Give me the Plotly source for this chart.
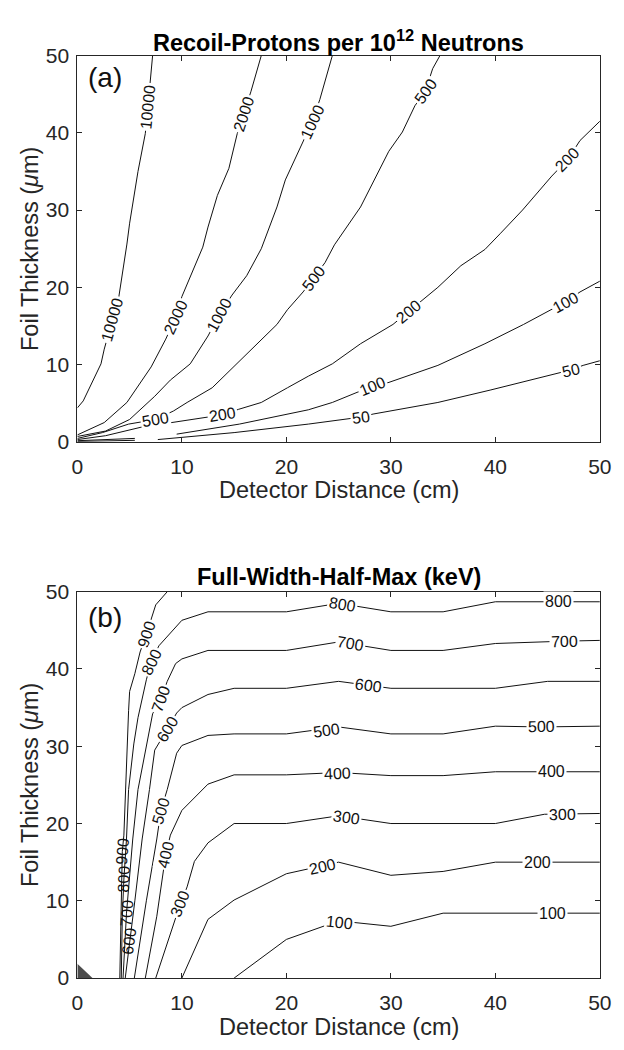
import math
import plotly.graph_objects as go

FIG_W, FIG_H = 624, 1050
FONT = "Liberation Sans, Arial, Helvetica, sans-serif"
INK = "#262626"

tick_vals = [0, 10, 20, 30, 40, 50]

# ---------------- Panel (a): Recoil-Protons per 10^12 Neutrons ----------------
a_10000_x = [0, 0.56, 2.26, 2.57, 3.35, 3.97, 4.74, 5.0, 5.8, 6.5, 6.75, 6.97, 7.2]
a_10000_y = [4.4, 5.3, 10.1, 12.0, 15.8, 18.8, 25.6, 28.3, 35.0, 39.9, 43.4, 46.8, 50]
a_10000_lx = [3.35, 6.75]
a_10000_ly = [15.8, 43.4]

a_2000_x = [0, 2.57, 4.74, 7.06, 8.46, 9.4, 10.0, 12.0, 12.5, 13.4, 14.5, 15.3, 15.9, 16.6, 17.6]
a_2000_y = [0.9, 2.5, 5.1, 9.7, 13.3, 16.1, 18.8, 25.2, 27.8, 31.9, 35.4, 39.9, 42.4, 45.3, 50]
a_2000_lx = [9.4, 15.9]
a_2000_ly = [16.1, 42.4]

a_1000_x = [0, 2.7, 5.0, 7.4, 8.9, 10.8, 12.5, 13.6, 14.8, 16.2, 17.6, 19.1, 19.9, 21.3, 22.5, 23.2, 24.4]
a_1000_y = [0.7, 1.4, 2.9, 5.9, 8.0, 10.1, 13.7, 16.5, 19.0, 21.5, 25.0, 30.4, 33.9, 38.0, 41.5, 44.3, 50]
a_1000_lx = [13.6, 22.5]
a_1000_ly = [16.5, 41.5]

a_500_x = [0, 2.4, 4.9, 7.5, 9.2, 10.5, 12.9, 15.1, 17.6, 19.1, 20.1, 21.6, 22.6, 23.7, 24.6, 25.8, 27.1,
           29.8, 31.1, 32.3, 33.3, 34.0, 34.7]
a_500_y = [0.45, 1.2, 2.3, 2.9, 4.0, 5.1, 7.0, 9.9, 13.1, 15.2, 17.1, 19.4, 21.2, 23.2, 25.5, 27.8, 30.4,
           37.6, 40.1, 43.5, 45.4, 48.3, 50]
a_500_lx = [7.5, 22.6, 33.3]
a_500_ly = [2.9, 21.2, 45.4]

a_200_x = [0, 2.7, 6.1, 9.0, 11.5, 13.9, 15.4, 17.6, 20.1, 22.1, 24.4, 27.1, 30.2, 31.7, 33.6, 34.5,
           36.7, 39.0, 40.5, 42.6, 45.4, 46.9, 48.1, 50]
a_200_y = [0.3, 0.8, 1.9, 2.5, 3.0, 3.5, 4.2, 5.1, 7.0, 8.5, 10.1, 12.7, 15.2, 16.9, 19.0, 20.0,
           22.8, 24.9, 27.0, 30.0, 34.4, 36.5, 39.0, 41.5]
a_200_lx = [13.9, 31.7, 46.9]
a_200_ly = [3.5, 16.9, 36.5]

a_100_x = [0, 5.5, None, 9.5, 15.5, 22.1, 24.4, 28.2, 29.6, 34.5, 39.0, 42.7, 45.2, 46.7, 48.1, 50]
a_100_y = [0.15, 0.45, None, 1.0, 2.3, 4.15, 5.1, 7.2, 7.6, 9.9, 12.7, 15.2, 17.0, 18.1, 19.4, 20.8]
a_100_lx = [28.2, 46.7]
a_100_ly = [7.2, 18.1]

a_50_x = [0, 5.5, None, 7.7, 15.0, 22.1, 27.1, 28.3, 34.5, 39.5, 45.6, 47.2, 48.4, 50]
a_50_y = [0.05, 0.2, None, 0.3, 1.2, 2.3, 3.2, 3.6, 5.1, 6.7, 8.8, 9.3, 9.9, 10.5]
a_50_lx = [27.1, 47.2]
a_50_ly = [3.2, 9.3]

# ---------------- Panel (b): Full-Width-Half-Max (keV) ----------------
b_900_x = [8.6, 7.5, 6.6, 6.0, 5.5, 5.0, 4.9, 4.6, 4.45, 4.3, 4.2, 4.06]
b_900_y = [50, 48.3, 44.5, 42.2, 39.4, 37.1, 34.6, 25.1, 18.5, 16.4, 10, 0]
b_900_lx = [6.6]
b_900_ly = [44.5]

b_800_x = [50, 46.0, 40, 35, 30, 25, 20, 12.5, 10.0, 7.8, 7.06, 6.6, 5.8, 5.4, 4.9, 4.7, 4.45, 4.3, 4.2]
b_800_y = [48.7, 48.7, 48.7, 47.4, 47.4, 48.5, 47.4, 47.4, 46.3, 43.0, 40.9, 38.6, 33.7, 30.3, 24.4, 18, 12.8, 8, 0]
b_800_lx = [46.0, 25.4, 7.06]
b_800_ly = [48.7, 48.4, 40.9]

b_700_x = [50, 46.6, 40, 35, 30, 25, 20, 12.5, 10.0, 9.4, 8.6, 8.0, 7.2, 6.75, 5.8, 5.3, 4.9, 4.7, 4.37]
b_700_y = [43.7, 43.6, 43.3, 42.4, 42.4, 43.5, 42.4, 42.4, 41.3, 40.7, 38.4, 36.2, 34.2, 31.2, 24.4, 18, 12, 8.4, 0]
b_700_lx = [46.6, 26.1, 8.0]
b_700_ly = [43.6, 43.3, 36.2]

b_600_x = [50, 45, 40, 35, 30, 25, 20, 15, 12.5, 10.0, 9.5, 8.6, 7.7, 7.4, 6.9, 6.2, 5.5, 5.0, 4.58]
b_600_y = [38.4, 38.4, 37.5, 37.5, 37.5, 38.4, 37.5, 37.5, 36.7, 35.0, 34.3, 32.2, 30.3, 29.5, 24.4, 18, 10, 4.8, 0]
b_600_lx = [27.9, 8.6]
b_600_ly = [37.9, 32.2]

b_500_x = [50, 44.4, 40, 35, 30, 25, 20, 15, 12.5, 10.0, 9.5, 8.6, 8.0, 7.6, 6.6, 5.45]
b_500_y = [32.6, 32.5, 32.6, 31.6, 31.6, 32.5, 31.6, 31.6, 31.4, 30.1, 29.1, 24.4, 21.7, 18, 10, 0]
b_500_lx = [44.4, 23.8, 8.0]
b_500_ly = [32.5, 32.1, 21.7]

b_400_x = [50, 45.4, 40, 35, 30, 25, 20, 15, 12.5, 10.0, 8.9, 8.46, 7.6, 6.5]
b_400_y = [26.7, 26.7, 26.7, 26.2, 26.2, 26.6, 26.3, 26.3, 25.1, 21.7, 18.5, 16.0, 8, 0]
b_400_lx = [45.4, 24.9, 8.46]
b_400_ly = [26.7, 26.5, 16.0]

b_300_x = [50, 46.4, 44.7, 40, 30, 25, 20, 15, 12.5, 11.2, 10.5, 9.85, 7.5]
b_300_y = [21.3, 21.2, 21.2, 20.0, 20.0, 21.0, 20.0, 20.0, 17.5, 15.1, 11.8, 9.6, 0]
b_300_lx = [46.4, 25.8, 9.85]
b_300_ly = [21.2, 20.8, 9.6]

b_200_x = [50, 44.0, 40, 35, 30, 25, 20, 15, 12.5, 10.0]
b_200_y = [15.0, 15.0, 15.0, 13.8, 13.3, 15.0, 13.5, 10.1, 7.6, 0]
b_200_lx = [44.0, 23.5]
b_200_ly = [15.0, 14.4]

b_100_x = [50, 45.5, 35, 30, 25, 20, 15]
b_100_y = [8.4, 8.4, 8.4, 6.7, 7.4, 5.0, 0]
b_100_lx = [45.5, 25.1]
b_100_ly = [8.4, 7.2]

# labels stacked on the crowded lines near the left edge of panel (b)
b_stack_levels = [900, 800, 700, 600]
b_stack_lx = [4.3, 4.4, 4.7, 5.0]
b_stack_ly = [16.4, 12.8, 8.4, 4.8]

# dense cluster of contours at the origin of panel (b)
b_origin_x = [0, 1.45, 0, 0]
b_origin_y = [0, 0, 1.85, 0]

panel_a = [
    (10000, a_10000_x, a_10000_y, a_10000_lx, a_10000_ly),
    (2000, a_2000_x, a_2000_y, a_2000_lx, a_2000_ly),
    (1000, a_1000_x, a_1000_y, a_1000_lx, a_1000_ly),
    (500, a_500_x, a_500_y, a_500_lx, a_500_ly),
    (200, a_200_x, a_200_y, a_200_lx, a_200_ly),
    (100, a_100_x, a_100_y, a_100_lx, a_100_ly),
    (50, a_50_x, a_50_y, a_50_lx, a_50_ly),
]
panel_b = [
    (900, b_900_x, b_900_y, b_900_lx, b_900_ly),
    (800, b_800_x, b_800_y, b_800_lx, b_800_ly),
    (700, b_700_x, b_700_y, b_700_lx, b_700_ly),
    (600, b_600_x, b_600_y, b_600_lx, b_600_ly),
    (500, b_500_x, b_500_y, b_500_lx, b_500_ly),
    (400, b_400_x, b_400_y, b_400_lx, b_400_ly),
    (300, b_300_x, b_300_y, b_300_lx, b_300_ly),
    (200, b_200_x, b_200_y, b_200_lx, b_200_ly),
    (100, b_100_x, b_100_y, b_100_lx, b_100_ly),
]

# ---------------- layout geometry ----------------
X_DOM = [73.5 / FIG_W, 611.5 / FIG_W]
A_YDOM = [(FIG_H - 439.5) / FIG_H, (FIG_H - 44.5) / FIG_H]
B_YDOM = [(FIG_H - 987.7) / FIG_H, (FIG_H - 592.7) / FIG_H]
XR = [0, 50]
YR = [0, 50]
SX = (X_DOM[1] - X_DOM[0]) * FIG_W / (XR[1] - XR[0])
SY_A = (A_YDOM[1] - A_YDOM[0]) * FIG_H / (YR[1] - YR[0])
SY_B = (B_YDOM[1] - B_YDOM[0]) * FIG_H / (YR[1] - YR[0])


def label_angle(xs, ys, lx, ly, sx, sy):
    best = None
    for i in range(len(xs) - 1):
        x0, y0, x1, y1 = xs[i], ys[i], xs[i + 1], ys[i + 1]
        if None in (x0, y0, x1, y1):
            continue
        ax, ay, bx, by = x0 * sx, y0 * sy, x1 * sx, y1 * sy
        px, py = lx * sx, ly * sy
        dx, dy = bx - ax, by - ay
        L2 = dx * dx + dy * dy
        t = 0.0 if L2 == 0 else max(0.0, min(1.0, ((px - ax) * dx + (py - ay) * dy) / L2))
        d = math.hypot(ax + t * dx - px, ay + t * dy - py)
        if best is None or d < best[0]:
            best = (d, dx, dy)
    _, dx, dy = best
    if dx < 0 or (dx == 0 and dy < 0):
        dx, dy = -dx, -dy
    return -math.degrees(math.atan2(dy, dx))


fig = go.Figure()
annotations = []
LINE = dict(color="#111111", width=1)
LABEL_FONT = dict(family=FONT, size=16, color="#111111")


def add_panel(panel, xa, ya, sy):
    for level, xs, ys, lxs, lys in panel:
        fig.add_trace(go.Scatter(x=xs, y=ys, mode="lines", line=LINE, connectgaps=False,
                                 hoverinfo="skip", showlegend=False, xaxis=xa, yaxis=ya))
        for lx, ly in zip(lxs, lys):
            ang = label_angle(xs, ys, lx, ly, SX, sy)
            annotations.append(dict(x=lx, y=ly, xref=xa, yref=ya, text=str(level), showarrow=False,
                                    textangle=ang, font=LABEL_FONT, bgcolor="white", borderpad=1,
                                    xanchor="center", yanchor="middle"))


add_panel(panel_a, "x", "y", SY_A)
fig.add_trace(go.Scatter(x=b_origin_x, y=b_origin_y, mode="lines", fill="toself", fillcolor="#4d4d4d",
                         line=dict(width=0, color="#4d4d4d"), hoverinfo="skip", showlegend=False,
                         xaxis="x2", yaxis="y2"))
add_panel(panel_b, "x2", "y2", SY_B)

# stacked labels (no gap, they sit over the crowded lines)
level_lines = {lv: (xs, ys) for lv, xs, ys, _, _ in panel_b}
for lv, lx, ly in zip(b_stack_levels, b_stack_lx, b_stack_ly):
    xs, ys = level_lines[lv]
    ang = label_angle(xs, ys, lx, ly, SX, SY_B)
    annotations.append(dict(x=lx, y=ly, xref="x2", yref="y2", text=str(lv), showarrow=False,
                            textangle=ang, font=LABEL_FONT, xanchor="center", yanchor="middle"))

# panel letters
annotations.append(dict(x=0.8, y=47.2, xref="x", yref="y", text="(a)", showarrow=False,
                        xanchor="left", yanchor="middle", font=dict(family=FONT, size=28, color="#111111")))
annotations.append(dict(x=0.8, y=46.7, xref="x2", yref="y2", text="(b)", showarrow=False,
                        xanchor="left", yanchor="middle", font=dict(family=FONT, size=28, color="#111111")))

xc = (X_DOM[0] + X_DOM[1]) / 2
TITLE_FONT = dict(family=FONT, size=23.5, color="#000000")
AXT_FONT = dict(family=FONT, size=23.5, color=INK)


def py(p):
    return (FIG_H - p) / FIG_H


annotations += [
    dict(x=xc, y=py(30), xref="paper", yref="paper", showarrow=False, xanchor="center", yanchor="middle",
         text="<b>Recoil-Protons per 10<sup>12</sup> Neutrons</b>", font=TITLE_FONT),
    dict(x=xc, y=py(577.5), xref="paper", yref="paper", showarrow=False, xanchor="center", yanchor="middle",
         text="<b>Full-Width-Half-Max (keV)</b>", font=TITLE_FONT),
    dict(x=xc, y=py(488.5), xref="paper", yref="paper", showarrow=False, xanchor="center", yanchor="middle",
         text="Detector Distance (cm)", font=AXT_FONT),
    dict(x=xc, y=py(1037.5), xref="paper", yref="paper", showarrow=False, xanchor="center", yanchor="middle",
         text="Detector Distance (cm)", font=AXT_FONT),
    dict(x=24 / FIG_W, y=py(242), xref="paper", yref="paper", showarrow=False, xanchor="center",
         yanchor="middle", textangle=-90, text="Foil Thickness (<i>μ</i>m)", font=AXT_FONT),
    dict(x=24 / FIG_W, y=py(790), xref="paper", yref="paper", showarrow=False, xanchor="center",
         yanchor="middle", textangle=-90, text="Foil Thickness (<i>μ</i>m)", font=AXT_FONT),
]

axis_common = dict(range=XR, tickvals=tick_vals, ticks="inside", ticklen=5, tickwidth=1, tickcolor=INK,
                   showline=True, linecolor=INK, linewidth=1, mirror="ticks", showgrid=False,
                   zeroline=False, tickfont=dict(family=FONT, size=21, color=INK), fixedrange=True)

fig.update_layout(
    width=FIG_W, height=FIG_H,
    margin=dict(l=0, r=0, t=0, b=0),
    paper_bgcolor="white", plot_bgcolor="white",
    showlegend=False,
    xaxis=dict(domain=X_DOM, anchor="y", ticklabelstandoff=6, **axis_common),
    yaxis=dict(domain=A_YDOM, anchor="x", ticklabelstandoff=3, **axis_common),
    xaxis2=dict(domain=X_DOM, anchor="y2", ticklabelstandoff=6, **axis_common),
    yaxis2=dict(domain=B_YDOM, anchor="x2", ticklabelstandoff=3, **axis_common),
    annotations=annotations,
)

fig.write_html("out.html")
